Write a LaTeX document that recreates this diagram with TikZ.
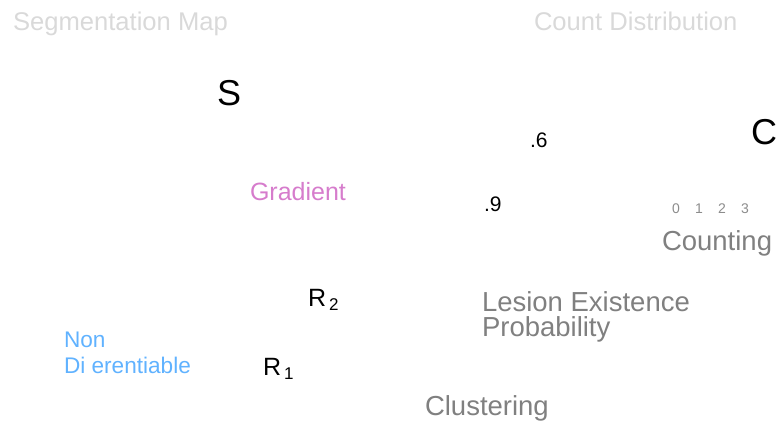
\documentclass[tikz,border=0pt]{standalone}
\usepackage{fontspec}
\setmainfont{Liberation Sans}
\usepackage{xcolor}
\usetikzlibrary{positioning}
\definecolor{headgrey}{RGB}{217,217,217}
\definecolor{stagegrey}{RGB}{128,128,128}
\definecolor{tickgrey}{RGB}{140,140,140}
\definecolor{gradpink}{RGB}{214,124,204}
\definecolor{nondiffblue}{RGB}{96,178,255}
\tikzset{
  txt/.style={anchor=base west,inner sep=0pt,outer sep=0pt},
  heading/.style={txt,text=headgrey,font=\fontsize{25.6}{30}\selectfont},
  stagelabel/.style={txt,text=stagegrey,font=\fontsize{27.5}{32}\selectfont},
  bigsym/.style={txt,text=black,font=\fontsize{36}{40}\selectfont},
  regionsym/.style={txt,text=black,font=\fontsize{25}{30}\selectfont},
  prob/.style={txt,text=black,font=\fontsize{21}{25}\selectfont},
  ticklabel/.style={txt,text=tickgrey,font=\fontsize{14}{16}\selectfont},
  gradlabel/.style={txt,text=gradpink,font=\fontsize{25}{30}\selectfont},
  nondifflabel/.style={txt,text=nondiffblue,font=\fontsize{22.6}{26}\selectfont}
}

\begin{document}
\begin{tikzpicture}[x=1pt,y=-1pt]
  \useasboundingbox (0,0) rectangle (778,423);
  % headings
  \node[heading] (segmap) at (13,30) {Segmentation Map};
  \node[heading] (countdist) at (534,30) {Count Distribution};
  % symbols
  \node[bigsym] (segS) at (217,105) {S};
  \node[bigsym] (countC) at (751,144) {C};
  \node[prob] (probhigh) at (484,211) {.9};
  \node[prob] (problow) at (530,147) {.6};
  \node[regionsym] (regtwo) at (308,306)
    {R\hspace{3pt}\raisebox{-4pt}{\fontsize{17}{18}\selectfont 2}};
  \node[regionsym] (regone) at (263,375)
    {R\hspace{3pt}\raisebox{-4pt}{\fontsize{17}{18}\selectfont 1}};
  \foreach \n in {0,...,3}
    \node[ticklabel] (tick\n) at (672+23*\n,213) {\n};
  % stage labels
  \node[gradlabel] (grad) at (250,200) {Gradient};
  \node[stagelabel] (counting) at (662,250) {Counting};
  \node[stagelabel] (lesion) at (482,311) {Lesion Existence};
  \node[stagelabel,below=25pt of lesion.base west,anchor=base west] (lesionprob) {Probability};
  \node[stagelabel] (cluster) at (425,415) {Clustering};
  \node[nondifflabel] (nondiff) at (64,347) {Non};
  \node[nondifflabel,below=26pt of nondiff.base west,anchor=base west] (nondifftwo) {Di erentiable};
\end{tikzpicture}
\end{document}
